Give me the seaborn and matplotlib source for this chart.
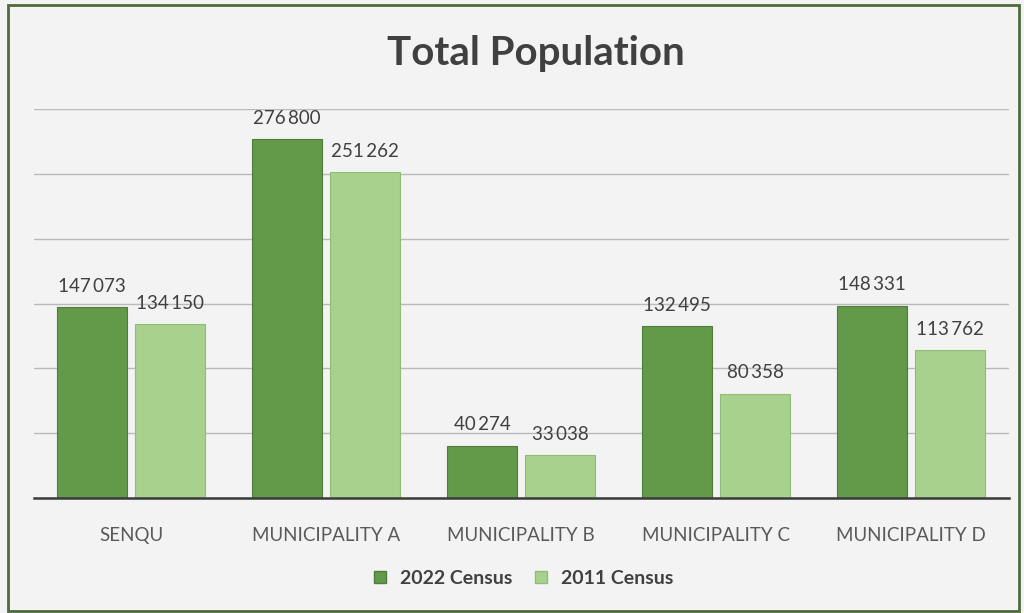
import matplotlib
matplotlib.use("Agg")
import matplotlib.pyplot as plt
import seaborn as sns
import pandas as pd
from matplotlib.patches import Rectangle
from matplotlib.lines import Line2D

# Population by municipality, two census years
municipalities = ["SENQU", "MUNICIPALITY A", "MUNICIPALITY B", "MUNICIPALITY C", "MUNICIPALITY D"]
census_2022 = [147073, 276800, 40274, 132495, 148331]
census_2011 = [134150, 251262, 33038, 80358, 113762]
series_names = ["2022 Census", "2011 Census"]

df = pd.DataFrame({
    "Municipality": municipalities * 2,
    "Census": [series_names[0]] * len(municipalities) + [series_names[1]] * len(municipalities),
    "Population": census_2022 + census_2011,
})

BG = "#f3f3f3"
DARK = "#639a49"
LIGHT = "#a9d18e"
TEXT = "#404040"

sns.set_theme(style="white")
plt.rcParams["font.family"] = ["Lato", "DejaVu Sans"]

fig = plt.figure(figsize=(10.24, 6.13), dpi=100, facecolor=BG)
ax = fig.add_axes([33.5 / 1024, (613 - 498) / 613, 975 / 1024, (498 - 109) / 613])
ax.set_facecolor(BG)

sns.barplot(
    data=df, x="Municipality", y="Population", hue="Census",
    hue_order=series_names, palette=[DARK, LIGHT], saturation=1,
    width=0.8, gap=0.1, legend=False, ax=ax, errorbar=None,
)

edge_cols = {0: "#4f7d39", 1: "#8fbd72"}
for i, cont in enumerate(ax.containers):
    for bar in cont:
        bar.set_edgecolor(edge_cols[i])
        bar.set_linewidth(0.8)
    ax.bar_label(
        cont, labels=[f"{v:,.0f}".replace(",", "\u2009") for v in cont.datavalues],
        padding=9, fontsize=13.5, color=TEXT,
    )

ax.set_ylim(0, 300000)
ax.set_xlim(-0.5, 4.5)
ax.set_yticks(range(0, 300001, 50000))
ax.yaxis.grid(True, color="#bababa", linewidth=1.0)
ax.set_axisbelow(True)
ax.tick_params(axis="y", left=False, labelleft=False)
ax.tick_params(axis="x", bottom=False, labelsize=13.5, labelcolor="#595959", pad=15)
for s in ["top", "right", "left"]:
    ax.spines[s].set_visible(False)
ax.spines["bottom"].set_color("#3a3a3a")
ax.spines["bottom"].set_linewidth(1.8)
ax.set_xlabel("")
ax.set_ylabel("")

fig.text(536 / 1024, 1 - 54 / 613, "Total Population", ha="center", va="center",
         fontsize=29, fontweight="bold", color=TEXT)

handles = [Line2D([], [], marker="s", linestyle="none", markersize=8,
                  markerfacecolor=c, markeredgecolor=e)
           for c, e in [(DARK, "#4f7d39"), (LIGHT, "#8fbd72")]]
fig.legend(handles, series_names, loc="center", bbox_to_anchor=(517 / 1024, 1 - 578 / 613),
           ncol=2, frameon=False, handletextpad=0.0, columnspacing=0.5,
           prop={"size": 14, "weight": "bold"}, labelcolor=TEXT)

# Chart frame
fig.patches.append(Rectangle((8 / 1024, 2 / 613), 1011 / 1024, 606 / 613,
                             transform=fig.transFigure, fill=False,
                             edgecolor="#4e6b3c", linewidth=2))

fig.savefig("out.png", dpi=100, facecolor=BG)
